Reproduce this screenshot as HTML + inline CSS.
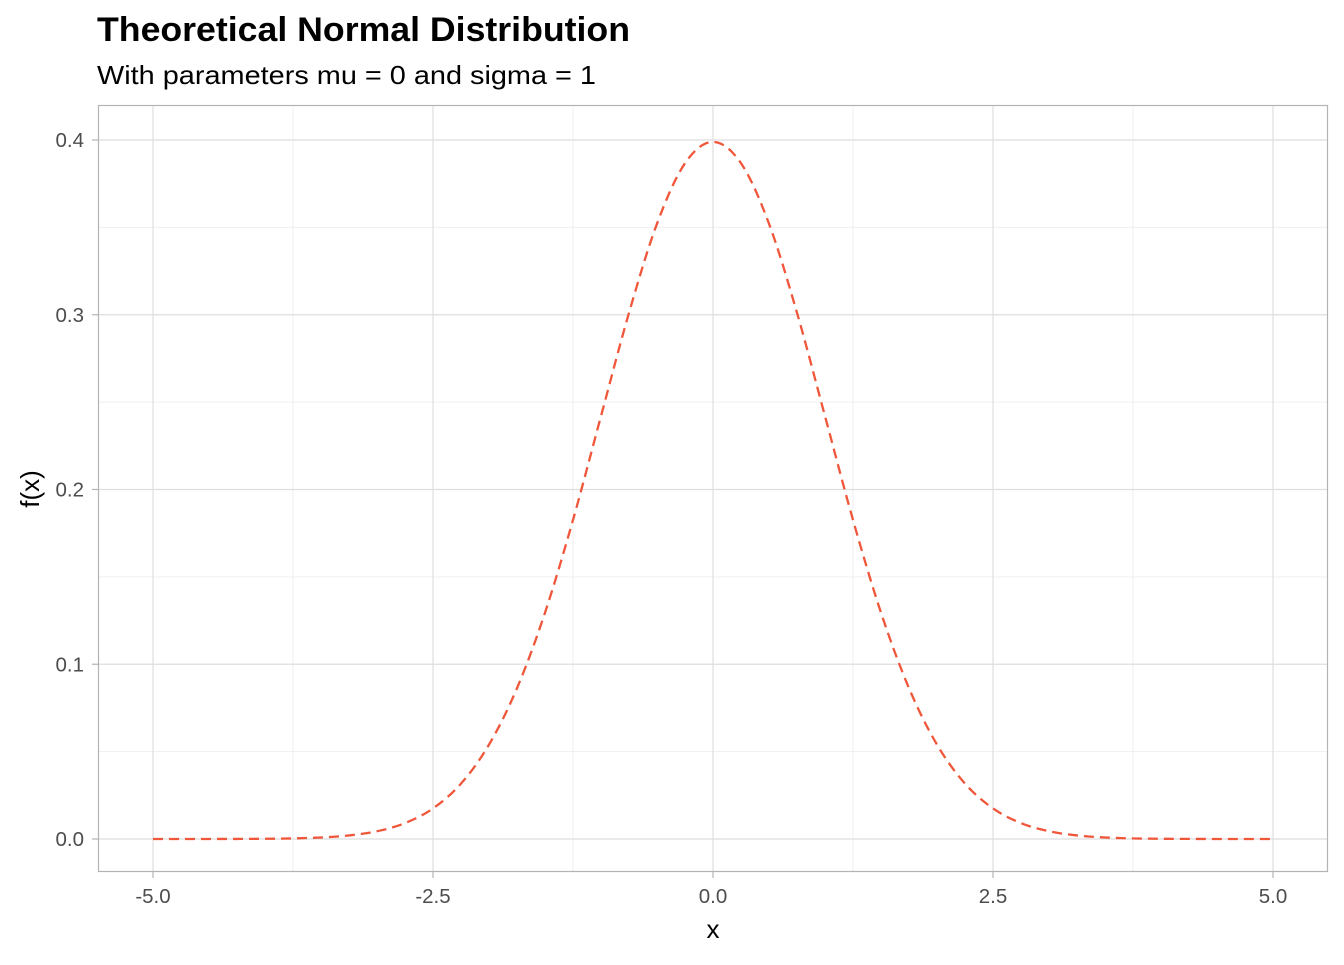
<!DOCTYPE html>
<html><head><meta charset="utf-8"><style>
html,body{margin:0;padding:0;background:#fff;}
text{font-family:"Liberation Sans",sans-serif;}
</style></head><body>
<svg id="chart" width="1344" height="960" xmlns="http://www.w3.org/2000/svg">
<text x="97" y="41" font-size="34" font-weight="bold" fill="#000" textLength="533" lengthAdjust="spacingAndGlyphs">Theoretical Normal Distribution</text>
<text x="97" y="84" font-size="26" fill="#000" textLength="499" lengthAdjust="spacingAndGlyphs">With parameters mu = 0 and sigma = 1</text>
<g id="grid"></g>
<rect x="98.5" y="105.5" width="1229" height="766" fill="none" stroke="#b3b3b3" stroke-width="1.2"/>
<g id="marks"></g>
<g id="axes"></g>
<text x="713" y="938" font-size="26" text-anchor="middle" fill="#000">x</text>
<text transform="translate(39,489) rotate(-90)" font-size="26" text-anchor="middle" fill="#000">f(x)</text>
</svg>
<script>
const xs = [-5,-4.75,-4.5,-4.25,-4,-3.75,-3.5,-3.25,-3,-2.75,-2.5,-2.25,-2,-1.75,-1.5,-1.25,-1,-0.75,-0.5,-0.25,0,0.25,0.5,0.75,1,1.25,1.5,1.75,2,2.25,2.5,2.75,3,3.25,3.5,3.75,4,4.25,4.5,4.75,5];
const ys = [0.0000015,0.000005,0.000016,0.00005,0.000134,0.000353,0.000873,0.00203,0.00443,0.00909,0.0175,0.0317,0.0540,0.0863,0.1295,0.1826,0.2420,0.3011,0.3521,0.3867,0.3989,0.3867,0.3521,0.3011,0.2420,0.1826,0.1295,0.0863,0.0540,0.0317,0.0175,0.00909,0.00443,0.00203,0.000873,0.000353,0.000134,0.00005,0.000016,0.000005,0.0000015];
const xTicks = [-5,-2.5,0,2.5,5];
const xTickLabels = ["-5.0","-2.5","0.0","2.5","5.0"];
const xMinor = [-3.75,-1.25,1.25,3.75];
const yTicks = [0,0.1,0.2,0.3,0.4];
const yTickLabels = ["0.0","0.1","0.2","0.3","0.4"];
const yMinor = [0.05,0.15,0.25,0.35];

const NS = "http://www.w3.org/2000/svg";
const sx = v => 713 + v * 112;
const sy = v => 839 - v * 1747.5;
const grid = document.getElementById('grid');
const axes = document.getElementById('axes');
const marks = document.getElementById('marks');
function line(parent, x1, y1, x2, y2, color, w) {
  const l = document.createElementNS(NS, 'line');
  l.setAttribute('x1', x1); l.setAttribute('y1', y1);
  l.setAttribute('x2', x2); l.setAttribute('y2', y2);
  l.setAttribute('stroke', color); l.setAttribute('stroke-width', w);
  parent.appendChild(l);
  return l;
}
xMinor.forEach(v => {
  const l = line(grid, sx(v), 106, sx(v), 871, '#efefef', 1);
  
  
});
yMinor.forEach(v => {
  const l = line(grid, 99, sy(v), 1327, sy(v), '#efefef', 1);
  
  
});
xTicks.forEach((v, i) => {
  const l = line(grid, sx(v), 106, sx(v), 871, '#dedede', 1.2);
  
  
  const t = line(axes, sx(v), 872, sx(v), 878, '#b3b3b3', 1.2);
  
  
  const tx = document.createElementNS(NS, 'text');
  tx.setAttribute('x', sx(v)); tx.setAttribute('y', 903);
  tx.setAttribute('text-anchor', 'middle'); tx.setAttribute('font-size', '20.5');
  tx.setAttribute('fill', '#4d4d4d');
  tx.textContent = xTickLabels[i];
  
  
  axes.appendChild(tx);
});
yTicks.forEach((v, i) => {
  const l = line(grid, 99, sy(v), 1327, sy(v), '#dedede', 1.2);
  
  
  const t = line(axes, 92, sy(v), 98, sy(v), '#b3b3b3', 1.2);
  
  
  const tx = document.createElementNS(NS, 'text');
  tx.setAttribute('x', 84); tx.setAttribute('y', sy(v) + 7);
  tx.setAttribute('text-anchor', 'end'); tx.setAttribute('font-size', '20.5');
  tx.setAttribute('fill', '#4d4d4d');
  tx.textContent = yTickLabels[i];
  
  
  axes.appendChild(tx);
});
const pts = xs.map((x, i) => [sx(x), sy(ys[i])]);
let d = 'M' + pts[0][0] + ',' + pts[0][1];
for (let i = 0; i < pts.length - 1; i++) {
  const p0 = pts[Math.max(0, i - 1)], p1 = pts[i], p2 = pts[i + 1], p3 = pts[Math.min(pts.length - 1, i + 2)];
  const c1x = p1[0] + (p2[0] - p0[0]) / 6, c1y = p1[1] + (p2[1] - p0[1]) / 6;
  const c2x = p2[0] - (p3[0] - p1[0]) / 6, c2y = p2[1] - (p3[1] - p1[1]) / 6;
  d += ' C' + c1x + ',' + c1y + ' ' + c2x + ',' + c2y + ' ' + p2[0] + ',' + p2[1];
}
const path = document.createElementNS(NS, 'path');
path.setAttribute('d', d);
path.setAttribute('fill', 'none');
path.setAttribute('stroke', '#F0563A');
path.setAttribute('stroke-width', '2.3');
path.setAttribute('stroke-dasharray', '10,6');


marks.appendChild(path);
</script>
</body></html>
